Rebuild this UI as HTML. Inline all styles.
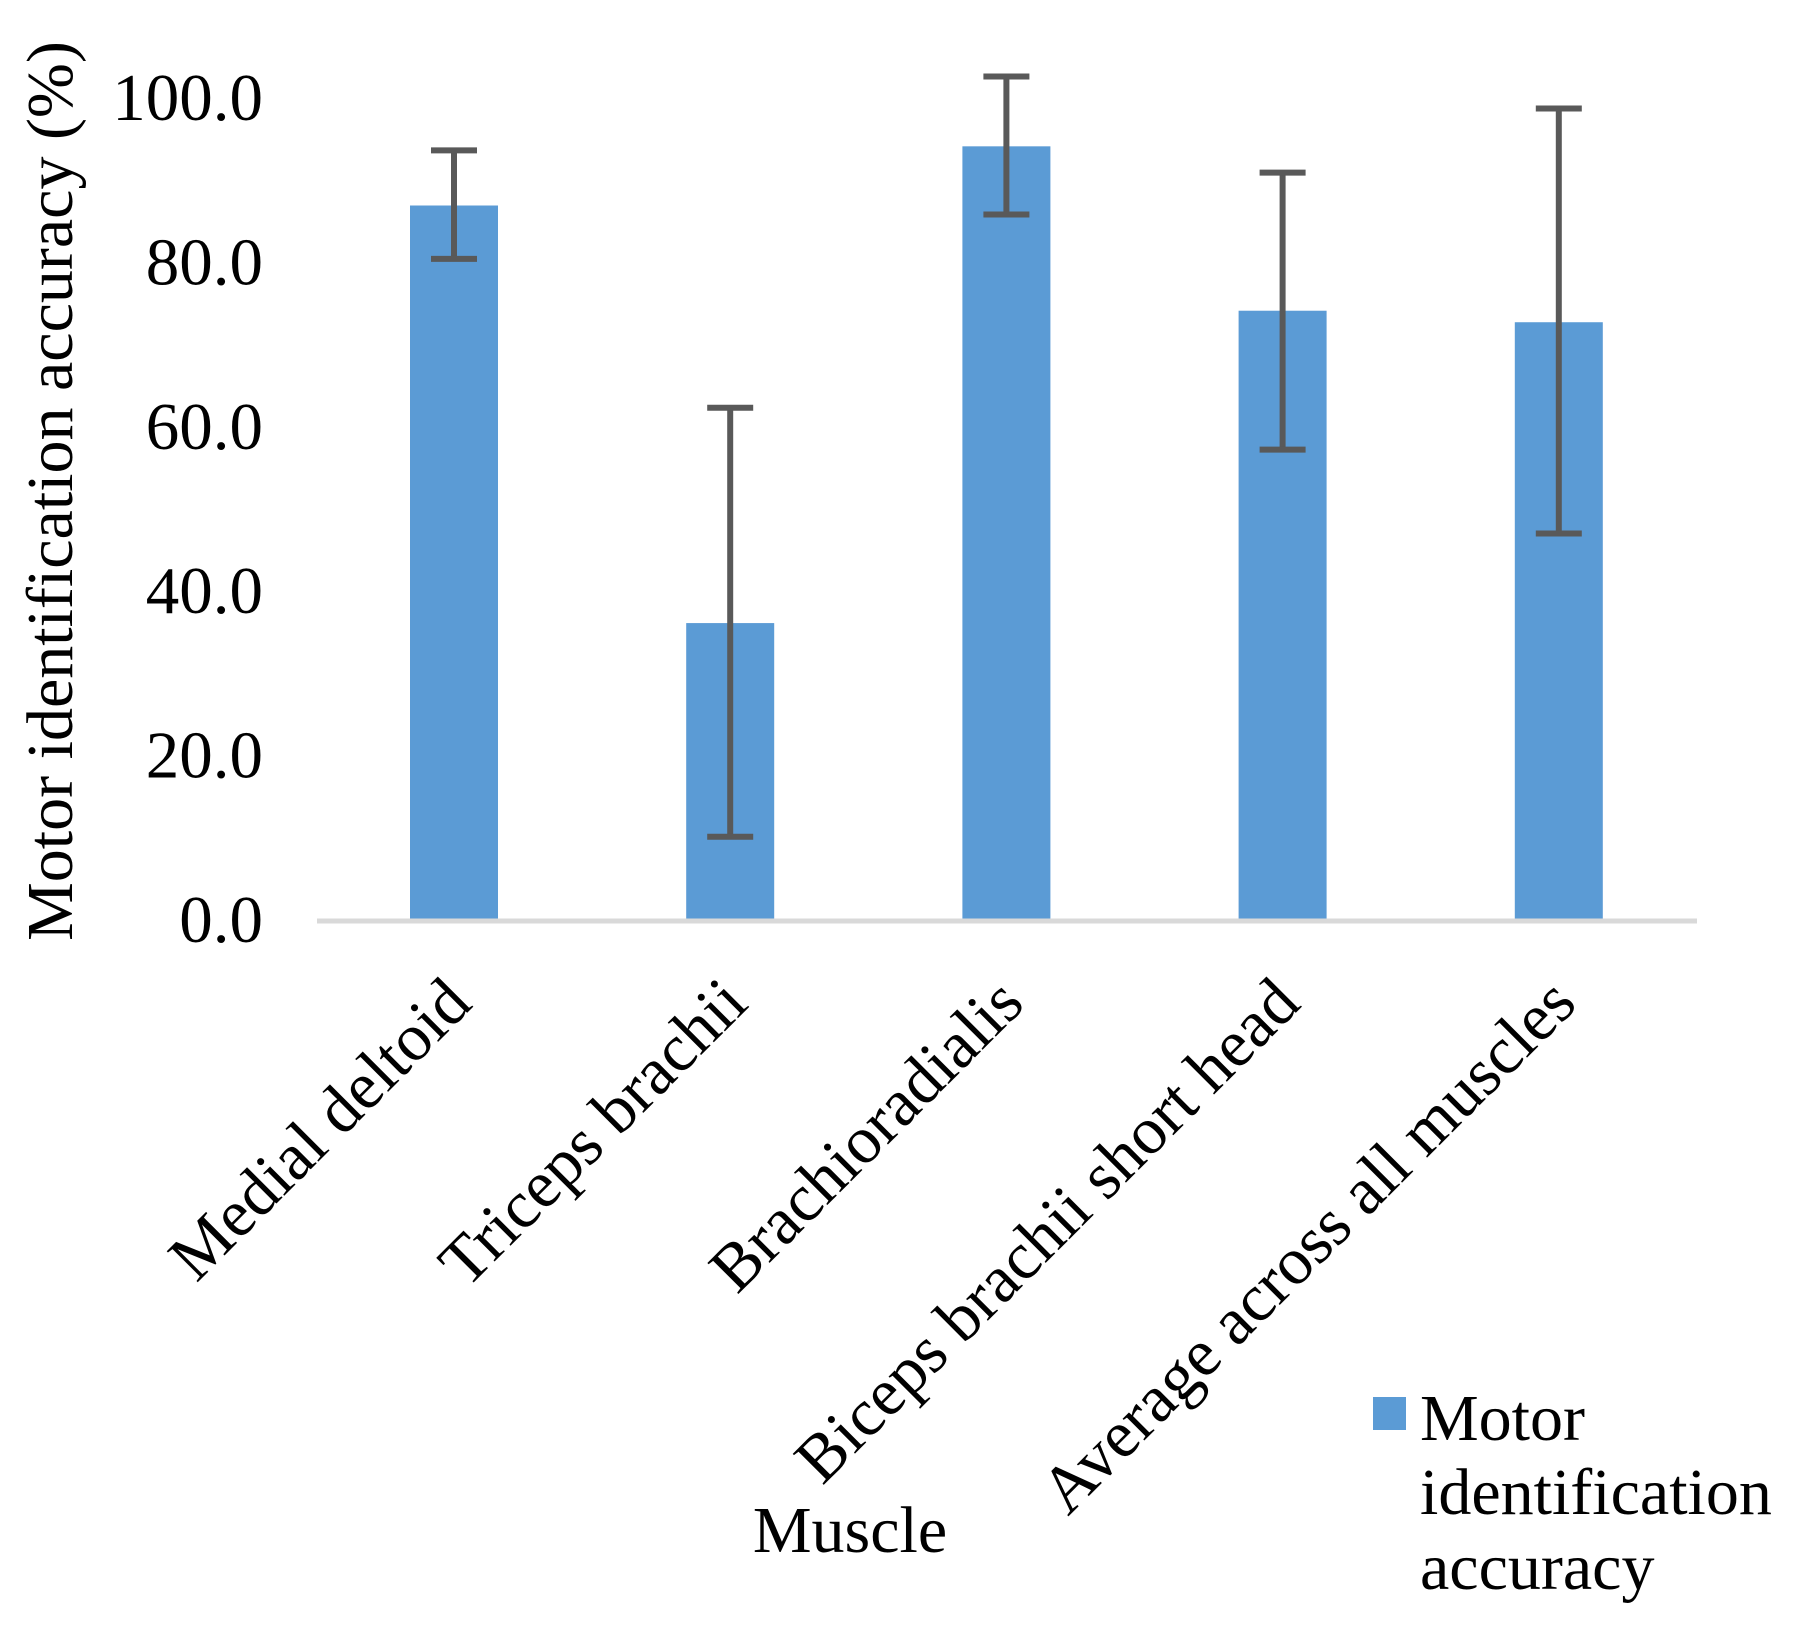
<!DOCTYPE html>
<html><head><meta charset="utf-8"><style>
html,body{margin:0;padding:0;background:#fff;}
svg text{font-family:"Liberation Serif",serif;fill:#000;}
</style></head><body>
<svg id="chart" width="1799" height="1644" xmlns="http://www.w3.org/2000/svg" style="position:absolute;left:0;top:0"></svg>
<script>
const categories=["Medial deltoid","Triceps brachii","Brachioradialis","Biceps brachii short head","Average across all muscles"];
const values=[86.8,36.0,94.0,74.0,72.6];
const errHigh=[93.5,62.2,102.5,90.8,98.6];
const errLow=[80.3,10.0,85.7,57.1,46.9];
const yTicks=[0,20,40,60,80,100];
const yTickLabels=["0.0","20.0","40.0","60.0","80.0","100.0"];

const svg=document.getElementById('chart');
const NS="http://www.w3.org/2000/svg";
const y0=919,y100=97,xL=317,xR=1697,first=454,step=276.2,bw=88;
const y=v=>y0-(v/100)*(y0-y100);
const x=i=>first+i*step;
function mk(t,a){const e=document.createElementNS(NS,t);for(const k in a)e.setAttribute(k,a[k]);svg.appendChild(e);return e;}

yTicks.forEach((t,i)=>{
 const e=mk('text',{x:263,y:y(t)+23,'font-size':67,'text-anchor':'end'});
 e.textContent=yTickLabels[i];
 
 
});
values.forEach((v,i)=>{
 const r=mk('rect',{x:x(i)-bw/2,y:y(v),width:bw,height:y0-y(v),fill:'#5b9bd5'});
 
 
});
const ax=mk('line',{x1:xL,x2:xR,y1:y0+2,y2:y0+2,stroke:'#d9d9d9','stroke-width':5});


values.forEach((v,i)=>{
 const g=document.createElementNS(NS,'g');svg.appendChild(g);
 
 
 const st={stroke:'#595959','stroke-width':6};
 [[x(i),y(errHigh[i]),x(i),y(errLow[i])],[x(i)-23,y(errHigh[i]),x(i)+23,y(errHigh[i])],[x(i)-23,y(errLow[i]),x(i)+23,y(errLow[i])]].forEach(c=>{
  const l=document.createElementNS(NS,'line');
  l.setAttribute('x1',c[0]);l.setAttribute('y1',c[1]);l.setAttribute('x2',c[2]);l.setAttribute('y2',c[3]);
  for(const k in st)l.setAttribute(k,st[k]);g.appendChild(l);
 });
});
categories.forEach((c,i)=>{
 const tx=x(i)+20,ty=1006;
 const e=mk('text',{x:tx,y:ty,'font-size':67,'text-anchor':'end',transform:`rotate(-45 ${tx} ${ty})`});
 e.textContent=c;
 
 
});
</script>
<div style="position:absolute;left:0;top:0;width:1799px;height:1644px;pointer-events:none;">
<svg width="1799" height="1644" xmlns="http://www.w3.org/2000/svg">
<text x="72" y="491" font-size="66" text-anchor="middle" transform="rotate(-90 72 491)" style="font-family:'Liberation Serif',serif">Motor identification accuracy (%)</text>
<text x="850" y="1552" font-size="66" text-anchor="middle" style="font-family:'Liberation Serif',serif">Muscle</text>
<g>
<rect x="1373" y="1397" width="33" height="33" fill="#5b9bd5"/>
<text x="1420" y="1440" font-size="66" style="font-family:'Liberation Serif',serif">Motor</text>
<text x="1420" y="1514" font-size="66" style="font-family:'Liberation Serif',serif">identification</text>
<text x="1420" y="1589" font-size="66" style="font-family:'Liberation Serif',serif">accuracy</text>
</g>
</svg></div>
</body></html>
